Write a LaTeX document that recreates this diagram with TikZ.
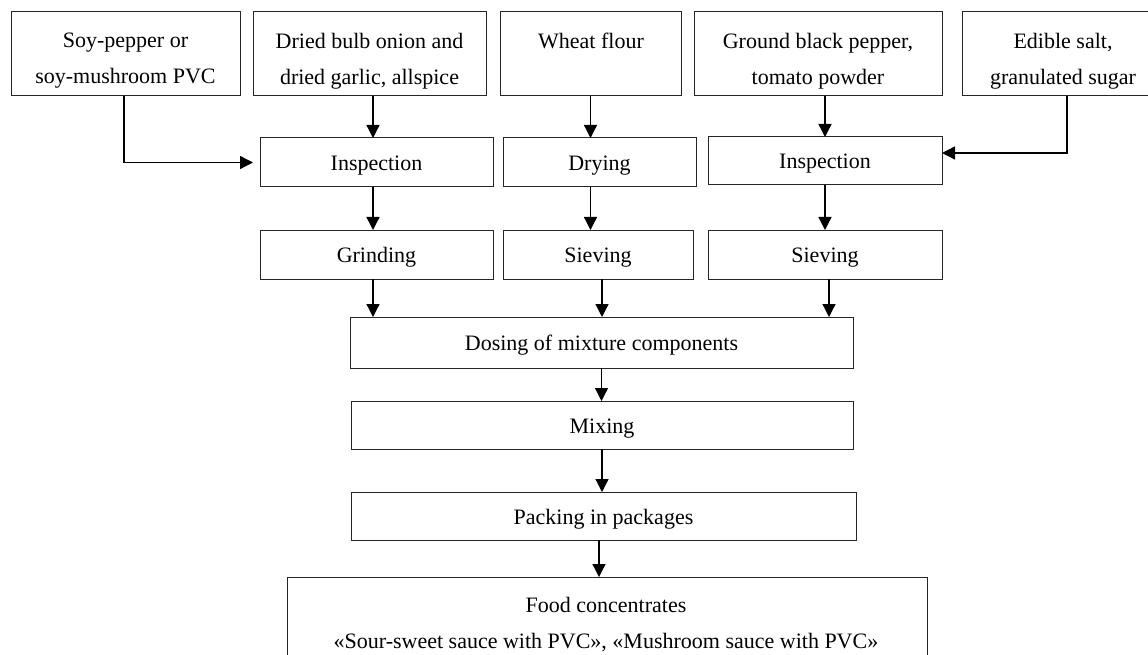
\documentclass[tikz,border=0pt]{standalone}
\usepackage{fontspec}
\setmainfont{Liberation Serif}
\usetikzlibrary{arrows.meta}
\begin{document}
\begin{tikzpicture}[x=1pt,y=-1pt,
  box/.style={draw=black!85, line width=1pt, inner sep=0pt, outer sep=0pt, rectangle,
              align=center, font=\fontsize{22}{36}\selectfont, text height=21pt, text depth=5pt},
  txt/.style={font=\fontsize{22}{36}\selectfont, align=center, inner sep=0pt},
  arr/.style={draw=black, line width=1.3pt, -{Triangle[length=13pt,width=13pt]}}]
\useasboundingbox (0,0) rectangle (1148,655);
% top row
\node[box, minimum width=229pt, minimum height=84pt] (b1) at (125.5,54) {};
\node[txt] (t1) at (125.5,61) {Soy-pepper or\\soy-mushroom PVC};
\node[box, minimum width=233pt, minimum height=84pt] (b2) at (369.5,54) {};
\node[txt] (t2) at (369.5,61) {Dried bulb onion and\\dried garlic, allspice};
\node[box, minimum width=181pt, minimum height=84pt] (b3) at (590.5,54) {};
\node[txt] (t3) at (591,41) {Wheat flour};
\node[box, minimum width=248pt, minimum height=84pt] (b4) at (818,54) {};
\node[txt] (t4) at (818,61) {Ground black pepper,\\tomato powder};
\node[box, minimum width=210pt, minimum height=84pt] (b5) at (1067,54) {};
\node[txt] (t5) at (1063,61) {Edible salt,\\granulated sugar};
% second row
\node[box, minimum width=233pt, minimum height=49pt] (insp1) at (376.5,162.5) {Inspection};
\node[box, minimum width=193pt, minimum height=49pt] (dry) at (599.5,162.5) {Drying};
\node[box, minimum width=234pt, minimum height=48pt] (insp2) at (825,161) {Inspection};
% third row
\node[box, minimum width=233pt, minimum height=49pt] (grind) at (376.5,254.5) {Grinding};
\node[box, minimum width=190pt, minimum height=49pt] (siev1) at (598,254.5) {Sieving};
\node[box, minimum width=234pt, minimum height=49pt] (siev2) at (825,254.5) {Sieving};
% lower chain
\node[box, minimum width=503pt, minimum height=51pt] (dose) at (601.5,342.5) {Dosing of mixture components};
\node[box, minimum width=502pt, minimum height=48pt] (mix) at (602,425) {Mixing};
\node[box, minimum width=505pt, minimum height=48pt] (pack) at (603.5,516) {Packing in packages};
\node[box, minimum width=640pt, minimum height=91pt] (food) at (607,622.5) {};
\node[txt] (t6) at (606,625)
  {Food concentrates\\«Sour-sweet sauce with PVC», «Mushroom sauce with PVC»};
% helper coordinates
\coordinate (c1) at ([xshift=-3.5pt]insp1.north);
\coordinate (c2) at ([xshift=4pt]siev1.south);
\coordinate (c3) at ([xshift=4pt]siev2.south);
\coordinate (c4) at ([xshift=-4.5pt]pack.south);
\coordinate (c5) at ([yshift=8pt]insp2.east);
\coordinate (c6) at ([xshift=-1.5pt]b1.south);
% connectors
\draw[arr] (c1 |- b2.south) -- (c1);
\draw[arr] (b3.south) -- (b3.south |- dry.north);
\draw[arr] (insp2.north |- b4.south) -- (insp2.north);
\draw[arr, shorten >=7pt] (c6) |- (insp1.west);
\draw[arr] (b5.south) |- (c5);
\draw[arr] (c1 |- insp1.south) -- (c1 |- grind.north);
\draw[arr] (b3.south |- dry.south) -- (b3.south |- siev1.north);
\draw[arr] (insp2.south) -- (siev2.north);
\draw[arr] (c1 |- grind.south) -- (c1 |- dose.north);
\draw[arr] (c2) -- (c2 |- dose.north);
\draw[arr] (c3) -- (c3 |- dose.north);
\draw[arr] (dose.south) -- (dose.south |- mix.north);
\draw[arr] (mix.south) -- (mix.south |- pack.north);
\draw[arr] (c4) -- (c4 |- food.north);
\end{tikzpicture}
\end{document}
